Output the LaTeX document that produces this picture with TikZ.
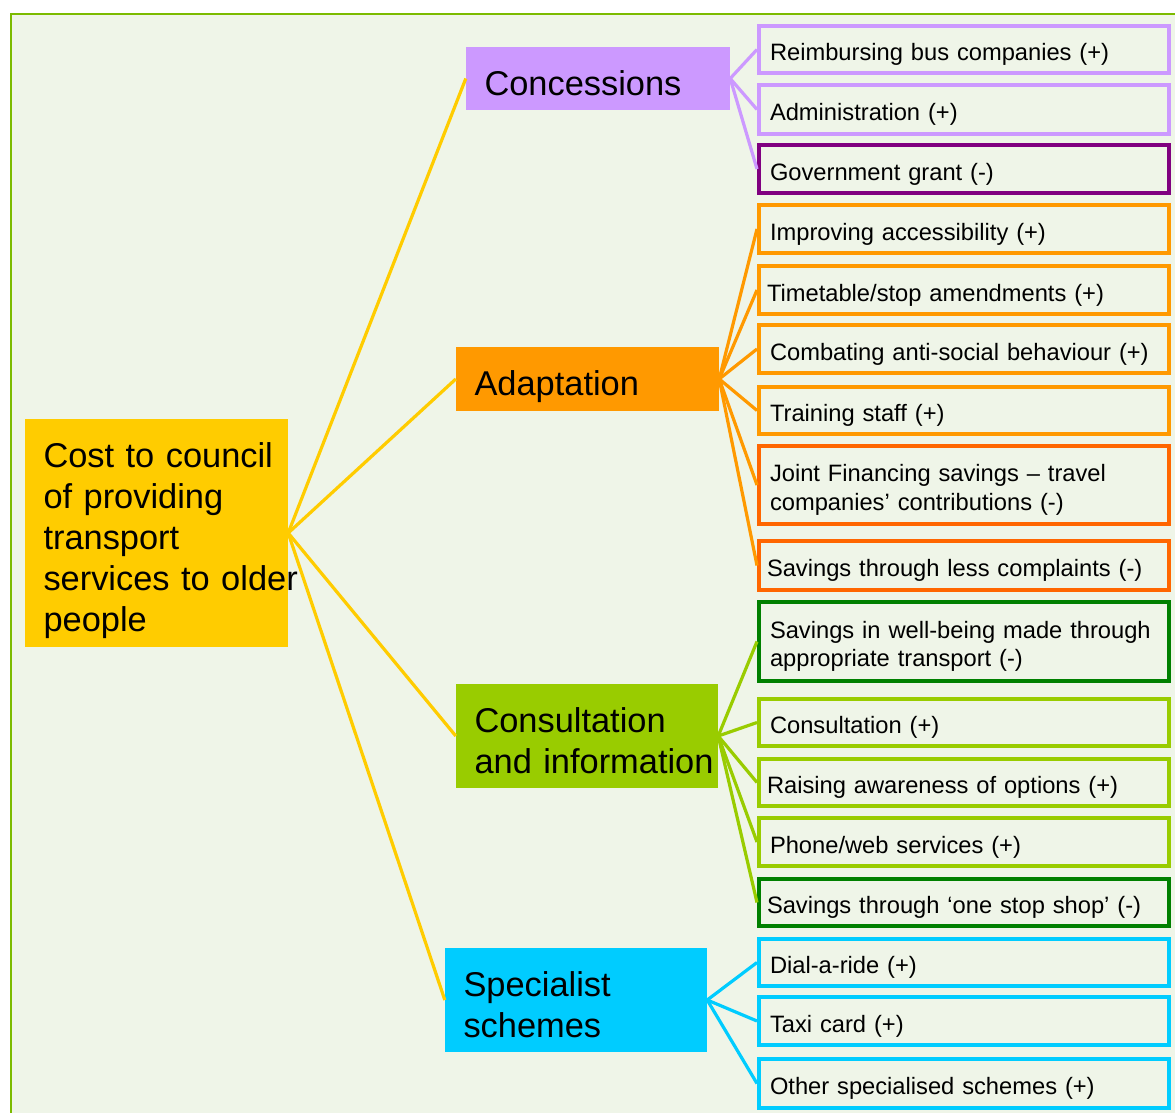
\documentclass[tikz,border=0pt]{standalone}
\usepackage{fontspec}
\setmainfont{Liberation Sans}
\definecolor{bgc}{HTML}{EFF5E8}
\definecolor{framec}{HTML}{7CBB00}
\definecolor{rootc}{HTML}{FFCC00}
\definecolor{concc}{HTML}{CC99FF}
\definecolor{concneg}{HTML}{800080}
\definecolor{adapc}{HTML}{FF9900}
\definecolor{adapneg}{HTML}{FF6600}
\definecolor{consc}{HTML}{99CC00}
\definecolor{consneg}{HTML}{008000}
\definecolor{specc}{HTML}{00CCFF}
\tikzset{
  bigbox/.style={rectangle, draw=none, inner ysep=0pt, inner xsep=18.5pt, align=left,
    font=\fontsize{34.4}{41}\selectfont},
  leafbox/.style={rectangle, line width=4pt, inner ysep=0pt, inner xsep=11pt,
    minimum width=410pt, text width=388pt, align=left,
    font=\fontsize{23.7}{28.5}\selectfont, lift=27pt},
  lift/.style={execute at begin node={\rule{0pt}{#1}}},
  conn/.style={line width=3.2pt},
}
\begin{document}
\begin{tikzpicture}[x=1pt,y=-1pt]
\useasboundingbox (0,0) rectangle (1175,1113);
\fill[white] (0,0) rectangle (1175,1113);
\clip (0,0) rectangle (1175,1113);
\draw[framec, fill=bgc, line width=2pt] (11,14) rectangle (1200,1140);

% root and middle nodes
\node[bigbox, lift=40pt, fill=rootc, minimum width=263pt, minimum height=228pt, text width=226pt] (root) at (156.5,533)
  {\mbox{Cost to council}\\\mbox{of providing}\\\mbox{transport}\\\mbox{services to older}\\\mbox{people}};
\node[bigbox, lift=35pt, fill=concc, minimum width=264pt, minimum height=63pt, text width=227pt] (conc) at (598,78.5) {\mbox{Concessions}};
\node[bigbox, lift=40pt, fill=adapc, minimum width=263pt, minimum height=64pt, text width=226pt] (adap) at (587.5,379) {\mbox{Adaptation}};
\node[bigbox, lift=35pt, fill=consc, minimum width=262pt, minimum height=104pt, text width=225pt] (cons) at (587,736) {\mbox{Consultation}\\\mbox{and information}};
\node[bigbox, lift=35pt, fill=specc, minimum width=262pt, minimum height=104pt, text width=225pt] (spec) at (576,1000) {\mbox{Specialist}\\\mbox{schemes}};

% leaves
\node[leafbox, draw=concc, minimum height=47pt] (l1) at (964,49.5) {\mbox{Reimbursing bus companies (+)}};
\node[leafbox, draw=concc, minimum height=49pt] (l2) at (964,109.5) {\mbox{Administration (+)}};
\node[leafbox, draw=concneg, minimum height=48pt] (l3) at (964,169) {\mbox{Government grant (-)}};
\node[leafbox, draw=adapc, minimum height=48pt] (l4) at (964,229) {\mbox{Improving accessibility (+)}};
\node[leafbox, draw=adapc, minimum height=48pt] (l5) at (964,290) {\mbox{\hspace{-3pt}Timetable/stop amendments (+)}};
\node[leafbox, draw=adapc, minimum height=48pt] (l6) at (964,349) {\mbox{Combating anti-social behaviour (+)}};
\node[leafbox, draw=adapc, minimum height=47pt] (l7) at (964,410.5) {\mbox{Training staff (+)}};
\node[leafbox, draw=adapneg, minimum height=78pt] (l8) at (964,485) {\mbox{Joint Financing savings -- travel}\\\mbox{companies’ contributions (-)}};
\node[leafbox, draw=adapneg, minimum height=49pt] (l9) at (964,565.5) {\mbox{\hspace{-3pt}Savings through less complaints (-)}};
\node[leafbox, draw=consneg, minimum height=79pt] (l10) at (964,641.5) {\mbox{Savings in well-being made through}\\\mbox{appropriate transport (-)}};
\node[leafbox, draw=consc, minimum height=47pt] (l11) at (964,722.5) {\mbox{Consultation (+)}};
\node[leafbox, draw=consc, minimum height=47pt] (l12) at (964,782.5) {\mbox{\hspace{-3pt}Raising awareness of options (+)}};
\node[leafbox, draw=consc, minimum height=48pt] (l13) at (964,842) {\mbox{Phone/web services (+)}};
\node[leafbox, draw=consneg, minimum height=47pt] (l14) at (964,902.5) {\mbox{\hspace{-3pt}Savings through ‘one stop shop’ (-)}};
\node[leafbox, draw=specc, minimum height=47pt] (l15) at (964,962.5) {\mbox{Dial-a-ride (+)}};
\node[leafbox, draw=specc, minimum height=48pt] (l16) at (964,1021) {\mbox{Taxi card (+)}};
\node[leafbox, draw=specc, minimum height=49pt] (l17) at (964,1083.5) {\mbox{Other specialised schemes (+)}};

% connectors
\draw[conn, rootc] (root.east) -- (conc.west);
\draw[conn, rootc] (root.east) -- (adap.west);
\draw[conn, rootc] (root.east) -- (cons.west);
\draw[conn, rootc] (root.east) -- (spec.west);
\foreach \l in {l1,l2,l3} \draw[conn, concc] (conc.east) -- (\l.west);
\foreach \l in {l4,l5,l6,l7,l8,l9} \draw[conn, adapc] (adap.east) -- (\l.west);
\foreach \l in {l10,l11,l12,l13,l14} \draw[conn, consc] (cons.east) -- (\l.west);
\foreach \l in {l15,l16,l17} \draw[conn, specc] (spec.east) -- (\l.west);
\end{tikzpicture}
\end{document}
